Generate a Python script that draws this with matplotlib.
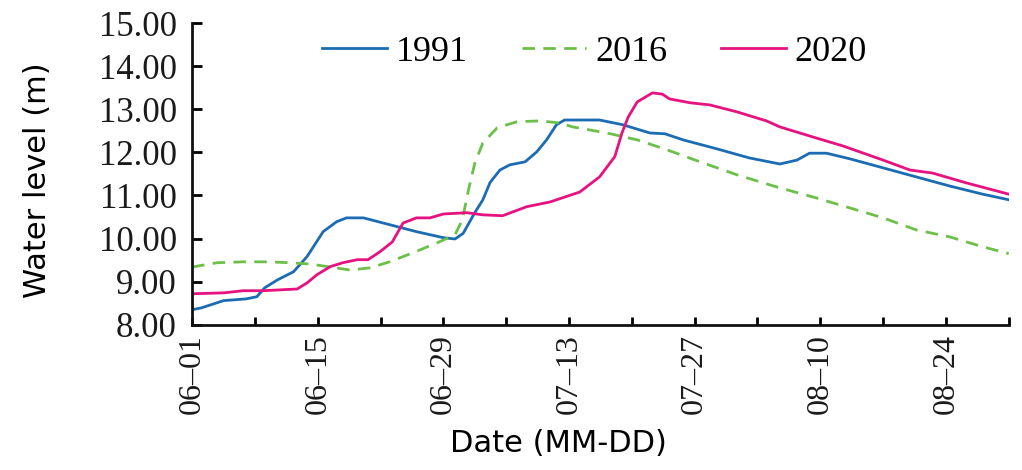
import matplotlib.pyplot as plt

# days since June 1
days_1991 = [0, 1, 3.5, 6, 7.2, 8.1, 9.5, 11.3, 12.8, 14.6, 16.1, 17.2, 19.1, 21.3, 25, 28, 29.3,
             30.2, 31.5, 32.4, 33.2, 34.3, 35.4, 37.1, 38.4, 39.5, 40.6, 41.5, 45.4, 48, 51, 52.7,
             54.7, 58.5, 62.1, 65.5, 67.4, 68.8, 70.7, 73.3, 77, 80.7, 84.4, 88.1, 91]
level_1991 = [8.35, 8.39, 8.56, 8.6, 8.65, 8.86, 9.04, 9.23, 9.58, 10.16, 10.39, 10.48, 10.48, 10.36,
              10.16, 10.02, 9.99, 10.12, 10.6, 10.9, 11.3, 11.59, 11.71, 11.78, 12.01, 12.29, 12.64,
              12.75, 12.75, 12.64, 12.45, 12.43, 12.29, 12.08, 11.87, 11.73, 11.82, 11.98, 11.98,
              11.85, 11.64, 11.43, 11.22, 11.03, 10.9]

days_2016 = [0, 2.8, 5.7, 8.3, 10.9, 13.1, 15.4, 17.6, 19.8, 22, 24.6, 27.3, 29.3, 30.1, 30.8, 31.5,
             32.4, 34, 36.2, 38.8, 41, 42.4, 46.2, 49.6, 52.9, 56.6, 60.7, 65.1, 69.6, 73.3, 77,
             80.7, 84.4, 88.1, 91]
level_2016 = [9.34, 9.44, 9.46, 9.46, 9.44, 9.41, 9.34, 9.27, 9.32, 9.46, 9.67, 9.9, 10.09, 10.43,
              11.13, 11.75, 12.22, 12.57, 12.71, 12.73, 12.68, 12.59, 12.45, 12.29, 12.06, 11.78,
              11.48, 11.2, 10.94, 10.71, 10.48, 10.2, 10.04, 9.81, 9.65]

days_2020 = [0, 3.5, 5.7, 7.9, 11.7, 12.8, 13.9, 15.4, 16.8, 18.4, 19.6, 20.9, 22.3, 23.5, 25, 26.5,
             28, 30.6, 32.4, 34.6, 37.3, 39.9, 43.2, 45.4, 47.1, 47.9, 48.6, 49.6, 51.3, 52.4, 53.2,
             55.5, 57.7, 60.7, 64, 65.5, 69.6, 72.5, 77, 80, 82.5, 86.3, 91]
level_2020 = [8.72, 8.74, 8.79, 8.79, 8.83, 8.97, 9.16, 9.35, 9.44, 9.51, 9.51, 9.69, 9.92, 10.36,
              10.48, 10.48, 10.57, 10.6, 10.55, 10.53, 10.74, 10.85, 11.08, 11.43, 11.9, 12.45,
              12.82, 13.17, 13.38, 13.35, 13.24, 13.15, 13.1, 12.94, 12.73, 12.59, 12.33, 12.15,
              11.82, 11.59, 11.52, 11.29, 11.03]

tick_days = [0, 14, 28, 42, 56, 70, 84]
tick_labels = ['06–01', '06–15', '06–29', '07–13', '07–27', '08–10', '08–24']
y_ticks = [8, 9, 10, 11, 12, 13, 14, 15]

serif = 'Liberation Serif'

fig = plt.figure(figsize=(10.22, 4.70), dpi=100)
ax = fig.add_axes([0.188, 0.309, 0.799, 0.642])

ax.plot(days_1991, level_1991, color='#1b6cb3', lw=2.0, label='1991', solid_joinstyle='round')
ax.plot(days_2016, level_2016, color='#6cc04a', lw=2.0, ls=(0, (4.5, 3)), label='2016')
ax.plot(days_2020, level_2020, color='#e6127f', lw=2.0, label='2020', solid_joinstyle='round')

ax.set_xlim(0, 91)
ax.set_ylim(8, 15)

for s in ['top', 'right']:
    ax.spines[s].set_visible(False)
for s in ['left', 'bottom']:
    ax.spines[s].set_linewidth(2.0)
    ax.spines[s].set_color('#111111')

ax.set_xticks(tick_days)
ax.set_xticks(range(7, 92, 14), minor=True)
ax.set_xticklabels(tick_labels, rotation=90, fontsize=23, family=serif, color='#1a1a1a')
ax.set_yticks(y_ticks)
ax.set_yticklabels(['%.2f' % v for v in y_ticks], fontsize=25, family=serif, color='#1a1a1a')

ax.tick_params(axis='x', which='both', direction='in', length=6, width=2.0, pad=7)
ax.tick_params(axis='y', direction='in', length=7, width=2.0, pad=11)

ax.set_xlabel('Date (MM-DD)', fontsize=22)
ax.xaxis.set_label_coords(0.448, -0.345)
ax.set_ylabel('Water level (m)', fontsize=22)
ax.yaxis.set_label_coords(-0.172, 0.48)

ax.legend(loc='center', bbox_to_anchor=(0.493, 0.904), ncol=3, frameon=False,
          prop={'family': serif, 'size': 26}, handlelength=1.78, handletextpad=0.25,
          columnspacing=1.5)

plt.savefig('out.png', dpi=100)
